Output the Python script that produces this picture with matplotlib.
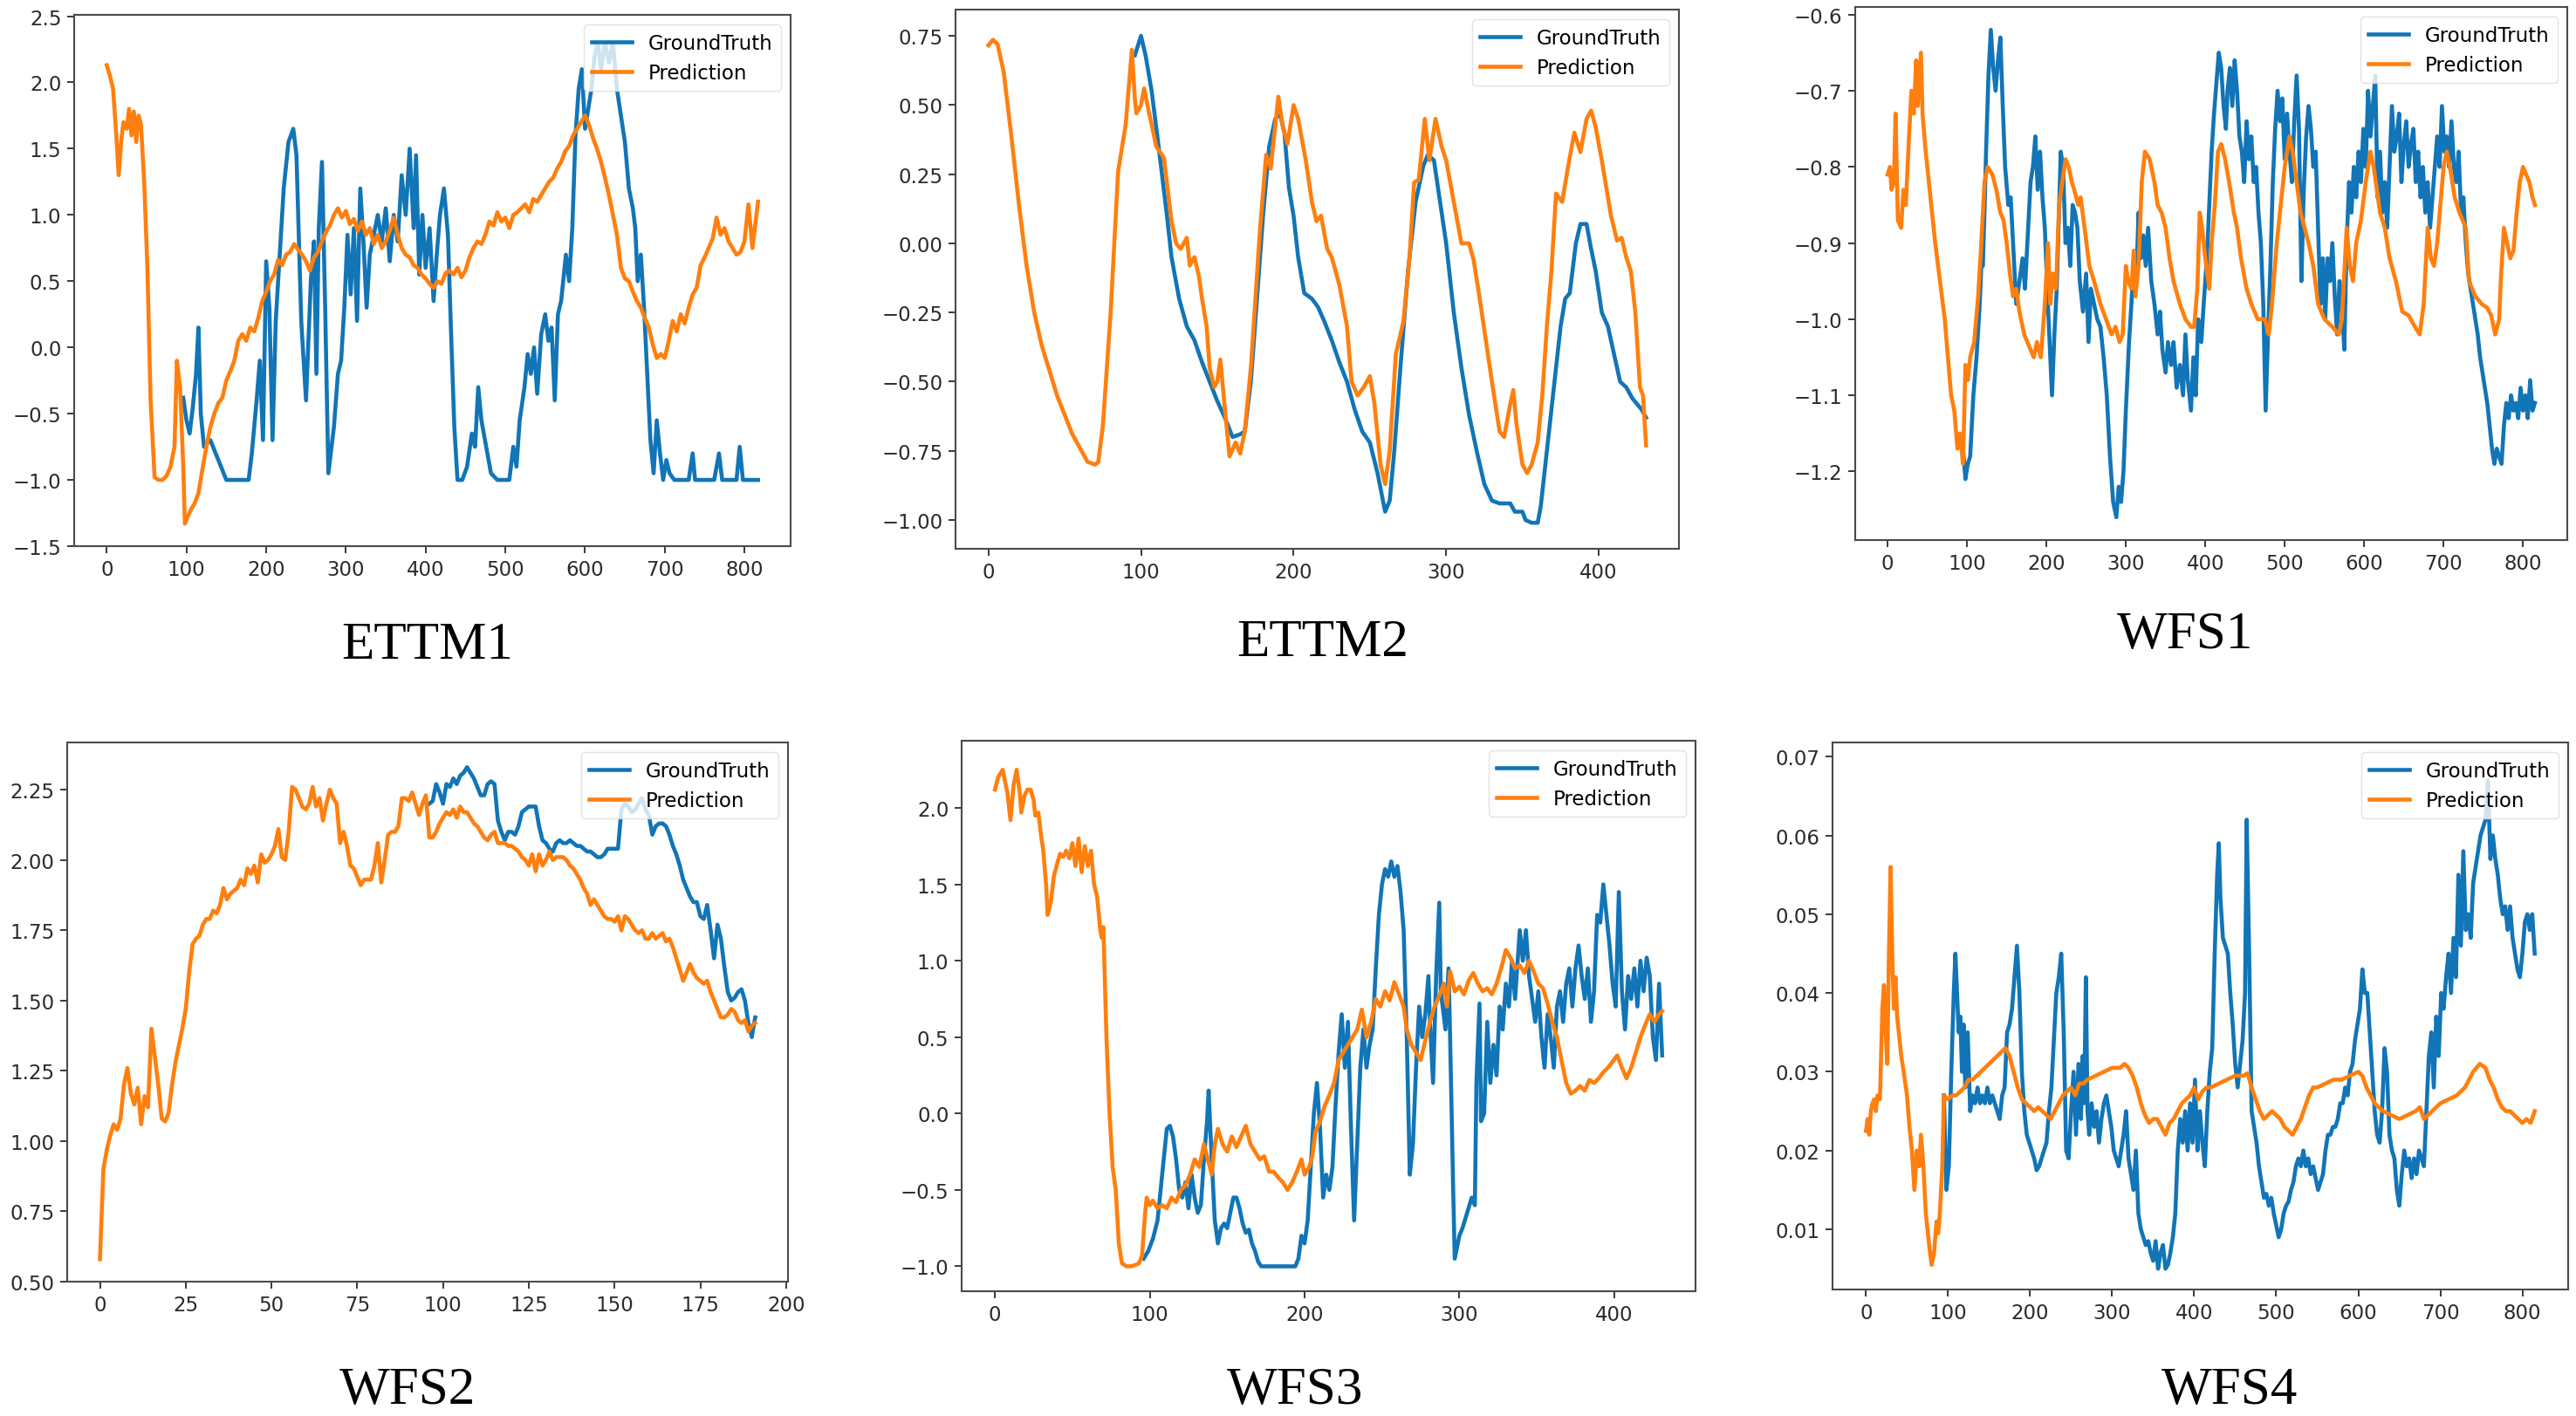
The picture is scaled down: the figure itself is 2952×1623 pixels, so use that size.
import numpy as np
import matplotlib
matplotlib.use("Agg")
import matplotlib.pyplot as plt

# ---- data: (time step, value) pairs ----
ettm1_pred = [(0, 2.13), (4, 2.05), (8, 1.95), (12, 1.6), (15, 1.3), (18, 1.55), (21, 1.7), (25, 1.65),
              (28, 1.8), (31, 1.6), (34, 1.78), (37, 1.55), (40, 1.75), (43, 1.68), (47, 1.25), (51, 0.6),
              (55, -0.4), (60, -0.98), (65, -1.0), (70, -1.0), (75, -0.97), (80, -0.9), (85, -0.75),
              (88, -0.1), (92, -0.3), (96, -0.9), (98, -1.33), (102, -1.27), (106, -1.22), (110, -1.18),
              (115, -1.1), (120, -0.92), (125, -0.75), (130, -0.6), (135, -0.5), (140, -0.42), (145, -0.38),
              (150, -0.25), (155, -0.18), (160, -0.1), (165, 0.05), (170, 0.1), (175, 0.05), (180, 0.15),
              (185, 0.12), (190, 0.22), (195, 0.35), (200, 0.42), (205, 0.5), (210, 0.55), (215, 0.66),
              (220, 0.62), (225, 0.7), (230, 0.72), (235, 0.78), (240, 0.74), (245, 0.7), (250, 0.65),
              (255, 0.58), (260, 0.68), (265, 0.72), (270, 0.8), (275, 0.87), (280, 0.92), (285, 1.0),
              (290, 1.05), (295, 0.98), (300, 1.03), (305, 0.93), (310, 0.97), (315, 0.88), (320, 0.95),
              (325, 0.85), (330, 0.9), (335, 0.78), (340, 0.85), (345, 0.75), (350, 0.8), (355, 0.88),
              (360, 0.98), (365, 0.85), (370, 0.75), (375, 0.7), (380, 0.68), (385, 0.62), (390, 0.6),
              (395, 0.55), (400, 0.52), (405, 0.48), (410, 0.45), (415, 0.5), (420, 0.48), (425, 0.56),
              (430, 0.58), (435, 0.55), (440, 0.6), (445, 0.53), (450, 0.58), (455, 0.68), (460, 0.75),
              (465, 0.8), (470, 0.78), (475, 0.85), (480, 0.95), (485, 0.92), (490, 1.02), (495, 0.95),
              (500, 0.98), (505, 0.9), (510, 1.0), (515, 1.02), (520, 1.05), (525, 1.08), (530, 1.02),
              (535, 1.12), (540, 1.1), (545, 1.15), (550, 1.2), (555, 1.25), (560, 1.28), (565, 1.35),
              (570, 1.4), (575, 1.48), (580, 1.52), (585, 1.6), (590, 1.65), (595, 1.7), (600, 1.75),
              (605, 1.68), (610, 1.58), (615, 1.5), (620, 1.4), (625, 1.28), (630, 1.15), (635, 1.0),
              (640, 0.85), (645, 0.6), (650, 0.52), (655, 0.5), (660, 0.42), (665, 0.35), (670, 0.3),
              (675, 0.22), (680, 0.15), (685, 0.02), (690, -0.08), (695, -0.05), (700, -0.08), (705, 0.05),
              (710, 0.2), (715, 0.12), (720, 0.25), (725, 0.18), (730, 0.3), (735, 0.4), (740, 0.45),
              (745, 0.62), (750, 0.68), (755, 0.75), (760, 0.82), (765, 0.98), (770, 0.85), (775, 0.9),
              (780, 0.8), (785, 0.75), (790, 0.7), (795, 0.72), (800, 0.8), (805, 1.08), (810, 0.75),
              (814, 0.95), (817, 1.1)]
ettm1_gt = [(96, -0.38), (100, -0.55), (104, -0.65), (108, -0.45), (112, -0.2), (115, 0.15), (118, -0.5),
            (122, -0.75), (130, -0.7), (140, -0.85), (150, -1.0), (178, -1.0), (182, -0.8), (188, -0.4),
            (192, -0.1), (196, -0.7), (200, 0.65), (204, 0.3), (208, -0.7), (212, 0.2), (216, 0.6),
            (222, 1.2), (228, 1.55), (234, 1.65), (238, 1.45), (244, 0.2), (250, -0.4), (256, 0.5),
            (260, 0.8), (263, -0.2), (266, 0.9), (270, 1.4), (274, 0.3), (278, -0.95), (285, -0.6),
            (290, -0.2), (294, -0.1), (298, 0.3), (302, 0.85), (306, 0.4), (310, 0.9), (314, 0.2),
            (318, 1.2), (322, 0.8), (326, 0.3), (330, 0.7), (335, 0.85), (340, 1.0), (345, 0.8),
            (350, 1.05), (355, 0.65), (360, 1.0), (365, 0.8), (370, 1.3), (375, 1.0), (380, 1.5),
            (385, 0.9), (388, 1.45), (392, 0.55), (396, 1.0), (400, 0.6), (405, 0.9), (410, 0.35),
            (414, 0.7), (418, 1.0), (423, 1.2), (428, 0.85), (432, 0.1), (436, -0.6), (440, -1.0),
            (446, -1.0), (452, -0.9), (458, -0.65), (462, -0.75), (466, -0.3), (470, -0.55), (476, -0.75),
            (482, -0.95), (490, -1.0), (505, -1.0), (510, -0.75), (514, -0.9), (518, -0.55), (524, -0.3),
            (528, -0.05), (532, -0.2), (536, 0.0), (540, -0.35), (545, 0.1), (550, 0.25), (554, 0.05),
            (558, 0.15), (562, -0.4), (566, 0.25), (570, 0.35), (576, 0.7), (580, 0.5), (584, 0.9),
            (588, 1.6), (592, 1.95), (596, 2.1), (600, 1.65), (604, 1.8), (608, 1.95), (612, 2.2),
            (616, 2.3), (620, 2.1), (625, 2.3), (630, 2.15), (635, 2.3), (640, 1.95), (645, 1.75),
            (650, 1.55), (655, 1.2), (660, 1.05), (663, 0.9), (666, 0.5), (670, 0.7), (674, 0.3),
            (678, -0.2), (682, -0.7), (686, -0.95), (690, -0.55), (694, -0.8), (698, -1.0), (702, -0.85),
            (706, -0.95), (712, -1.0), (730, -1.0), (735, -0.8), (738, -1.0), (762, -1.0), (768, -0.8),
            (772, -1.0), (790, -1.0), (794, -0.75), (798, -1.0), (817, -1.0)]

ettm2_pred = [(0, 0.716), (3, 0.736), (6, 0.72), (10, 0.62), (15, 0.39), (20, 0.14), (25, -0.08), (30, -0.25),
              (35, -0.37), (40, -0.46), (45, -0.55), (50, -0.62), (55, -0.69), (60, -0.74), (65, -0.79),
              (70, -0.80), (72, -0.79), (75, -0.66), (80, -0.26), (85, 0.26), (90, 0.43), (94, 0.70),
              (96, 0.52), (97, 0.47), (100, 0.50), (102, 0.56), (105, 0.48), (110, 0.35), (115, 0.31),
              (120, 0.08), (123, 0.0), (126, -0.02), (130, 0.02), (132, -0.08), (135, -0.05), (138, -0.12),
              (140, -0.2), (143, -0.3), (145, -0.45), (148, -0.52), (150, -0.5), (152, -0.42), (155, -0.6),
              (158, -0.77), (162, -0.72), (165, -0.76), (168, -0.68), (172, -0.45), (175, -0.2), (178, 0.05),
              (182, 0.32), (185, 0.27), (190, 0.53), (193, 0.42), (196, 0.36), (200, 0.5), (203, 0.45),
              (208, 0.3), (212, 0.15), (215, 0.08), (218, 0.1), (222, -0.02), (225, -0.05), (230, -0.15),
              (235, -0.3), (238, -0.5), (242, -0.55), (246, -0.52), (250, -0.48), (253, -0.58), (257, -0.8),
              (260, -0.87), (263, -0.75), (267, -0.4), (270, -0.33), (272, -0.28), (276, -0.05), (279, 0.22),
              (282, 0.23), (286, 0.45), (289, 0.3), (293, 0.45), (297, 0.35), (300, 0.3), (305, 0.15),
              (310, 0.0), (315, 0.0), (318, -0.06), (322, -0.2), (326, -0.35), (330, -0.5), (335, -0.68),
              (338, -0.7), (342, -0.58), (344, -0.53), (346, -0.65), (350, -0.8), (353, -0.83), (356, -0.8),
              (360, -0.72), (363, -0.55), (366, -0.3), (369, -0.1), (372, 0.18), (376, 0.15), (380, 0.28),
              (384, 0.4), (388, 0.33), (392, 0.45), (395, 0.48), (398, 0.42), (402, 0.3), (405, 0.2),
              (408, 0.1), (412, 0.01), (415, 0.02), (418, -0.05), (421, -0.1), (424, -0.25), (427, -0.52),
              (429, -0.55), (431, -0.73)]
ettm2_gt = [(96, 0.68), (100, 0.75), (103, 0.68), (107, 0.55), (112, 0.33), (117, 0.1), (120, -0.05),
            (125, -0.2), (130, -0.3), (135, -0.35), (140, -0.43), (145, -0.5), (150, -0.57), (155, -0.63),
            (160, -0.7), (165, -0.69), (168, -0.68), (172, -0.5), (176, -0.2), (180, 0.1), (184, 0.35),
            (188, 0.45), (191, 0.47), (194, 0.4), (197, 0.2), (200, 0.1), (203, -0.05), (207, -0.18),
            (212, -0.2), (216, -0.23), (220, -0.28), (225, -0.35), (230, -0.43), (235, -0.5), (240, -0.6),
            (245, -0.68), (250, -0.72), (255, -0.83), (260, -0.97), (263, -0.93), (266, -0.75), (270, -0.45),
            (275, -0.1), (280, 0.15), (285, 0.28), (288, 0.32), (292, 0.3), (296, 0.15), (300, 0.0),
            (305, -0.25), (310, -0.45), (315, -0.62), (320, -0.75), (325, -0.87), (330, -0.93), (335, -0.94),
            (342, -0.94), (345, -0.97), (350, -0.97), (352, -1.0), (356, -1.01), (360, -1.01), (362, -0.95),
            (365, -0.8), (370, -0.55), (375, -0.3), (378, -0.2), (381, -0.18), (385, 0.0), (388, 0.07),
            (392, 0.07), (395, -0.02), (398, -0.1), (402, -0.25), (406, -0.3), (410, -0.4), (414, -0.5),
            (418, -0.52), (422, -0.56), (425, -0.58), (428, -0.6), (431, -0.63)]

wfs1_pred = [(0, -0.81), (3, -0.8), (5, -0.83), (8, -0.82), (10, -0.73), (13, -0.87), (17, -0.88), (20, -0.83),
             (23, -0.85), (27, -0.76), (30, -0.7), (33, -0.73), (36, -0.66), (38, -0.72), (42, -0.65),
             (44, -0.73), (48, -0.78), (52, -0.82), (56, -0.86), (60, -0.9), (66, -0.95), (72, -1.0),
             (76, -1.05), (80, -1.1), (84, -1.12), (88, -1.17), (91, -1.15), (95, -1.19), (98, -1.06),
             (101, -1.08), (104, -1.05), (109, -1.03), (114, -0.97), (118, -0.9), (122, -0.82), (126, -0.8),
             (132, -0.81), (137, -0.83), (142, -0.86), (146, -0.87), (150, -0.9), (154, -0.94), (158, -0.97),
             (162, -0.96), (166, -0.99), (172, -1.02), (180, -1.04), (184, -1.05), (188, -1.03), (193, -1.05),
             (198, -0.98), (202, -0.9), (205, -0.98), (208, -0.94), (212, -0.96), (216, -0.85), (220, -0.82),
             (224, -0.79), (228, -0.8), (232, -0.82), (235, -0.83), (240, -0.85), (243, -0.84), (248, -0.88),
             (254, -0.93), (260, -0.95), (268, -0.98), (275, -1.0), (282, -1.02), (287, -1.01), (292, -1.03),
             (296, -1.02), (300, -0.93), (303, -0.95), (307, -0.96), (310, -0.91), (312, -0.97), (316, -0.93),
             (320, -0.82), (324, -0.78), (330, -0.79), (336, -0.82), (340, -0.85), (345, -0.86), (350, -0.88),
             (355, -0.92), (360, -0.95), (368, -0.98), (375, -1.0), (382, -1.01), (386, -1.01), (390, -0.96),
             (393, -0.86), (396, -0.88), (400, -0.92), (405, -0.96), (408, -0.9), (412, -0.85), (416, -0.78),
             (420, -0.77), (425, -0.79), (430, -0.82), (436, -0.86), (440, -0.88), (445, -0.92), (452, -0.96),
             (458, -0.98), (466, -1.0), (475, -1.0), (480, -1.02), (484, -0.98), (490, -0.9), (495, -0.85),
             (500, -0.8), (506, -0.76), (510, -0.78), (515, -0.82), (520, -0.86), (525, -0.88), (530, -0.9),
             (536, -0.93), (542, -0.98), (550, -1.0), (560, -1.01), (568, -1.02), (572, -1.0), (575, -0.94),
             (578, -0.88), (582, -0.93), (586, -0.95), (590, -0.9), (596, -0.87), (602, -0.82), (608, -0.78),
             (612, -0.8), (616, -0.83), (620, -0.86), (626, -0.88), (632, -0.92), (640, -0.95), (648, -0.99),
             (656, -0.995), (664, -1.01), (670, -1.02), (675, -0.98), (680, -0.88), (684, -0.92), (688, -0.93),
             (692, -0.9), (696, -0.85), (700, -0.8), (704, -0.78), (708, -0.8), (714, -0.84), (720, -0.86),
             (728, -0.88), (732, -0.95), (740, -0.97), (748, -0.98), (755, -0.985), (760, -0.995),
             (765, -1.02), (770, -1.0), (772, -0.95), (776, -0.88), (780, -0.9), (784, -0.92), (788, -0.91),
             (792, -0.86), (796, -0.82), (800, -0.8), (804, -0.81), (808, -0.82), (812, -0.84), (815, -0.85)]
wfs1_gt = [(95, -1.17), (98, -1.21), (101, -1.19), (104, -1.18), (108, -1.1), (112, -1.05), (116, -0.98),
           (118, -0.93), (120, -0.93), (122, -0.86), (124, -0.78), (127, -0.68), (130, -0.62), (133, -0.67),
           (136, -0.7), (139, -0.66), (142, -0.63), (145, -0.72), (148, -0.8), (152, -0.85), (155, -0.84),
           (158, -0.9), (162, -0.98), (166, -0.95), (170, -0.92), (173, -0.96), (176, -0.9), (180, -0.82),
           (183, -0.8), (186, -0.76), (189, -0.83), (192, -0.78), (195, -0.84), (198, -0.88), (201, -0.96),
           (204, -1.03), (207, -1.1), (210, -1.02), (213, -0.96), (216, -0.85), (218, -0.78), (221, -0.8),
           (224, -0.9), (227, -0.88), (230, -0.93), (233, -0.85), (236, -0.86), (239, -0.88), (242, -0.95),
           (246, -0.99), (250, -0.94), (253, -1.03), (256, -0.96), (260, -0.98), (264, -1.0), (268, -1.01),
           (272, -1.05), (276, -1.1), (280, -1.18), (284, -1.24), (288, -1.26), (291, -1.22), (294, -1.24),
           (297, -1.2), (300, -1.12), (304, -1.03), (307, -0.98), (310, -0.92), (313, -0.95), (316, -0.86),
           (319, -0.92), (322, -0.89), (325, -0.93), (328, -0.88), (332, -0.95), (336, -0.98), (340, -1.02),
           (343, -0.99), (346, -1.04), (350, -1.07), (353, -1.03), (357, -1.06), (360, -1.03), (364, -1.09),
           (368, -1.06), (372, -1.1), (375, -1.02), (378, -1.08), (382, -1.12), (385, -1.05), (388, -1.1),
           (391, -1.0), (395, -1.03), (398, -0.98), (402, -0.92), (405, -0.85), (408, -0.78), (411, -0.73),
           (414, -0.69), (417, -0.65), (420, -0.67), (423, -0.72), (426, -0.75), (428, -0.7), (431, -0.67),
           (434, -0.72), (437, -0.66), (440, -0.7), (443, -0.76), (446, -0.78), (449, -0.82), (452, -0.74),
           (455, -0.79), (458, -0.76), (461, -0.82), (464, -0.8), (467, -0.86), (470, -0.9), (473, -0.98),
           (476, -1.12), (479, -1.02), (482, -0.93), (485, -0.82), (488, -0.75), (491, -0.7), (494, -0.74),
           (497, -0.71), (500, -0.79), (503, -0.73), (506, -0.78), (509, -0.82), (512, -0.74), (515, -0.68),
           (518, -0.75), (521, -0.95), (524, -0.83), (527, -0.76), (530, -0.72), (533, -0.75), (536, -0.8),
           (539, -0.78), (542, -0.88), (545, -0.98), (548, -0.92), (551, -1.0), (554, -0.92), (557, -0.95),
           (560, -0.9), (563, -0.97), (566, -1.02), (569, -0.95), (572, -0.98), (575, -1.04), (578, -0.9),
           (581, -0.82), (584, -0.86), (587, -0.8), (590, -0.84), (593, -0.78), (596, -0.82), (599, -0.75),
           (602, -0.8), (605, -0.7), (608, -0.76), (611, -0.72), (614, -0.68), (617, -0.84), (620, -0.78),
           (623, -0.86), (626, -0.82), (629, -0.88), (632, -0.8), (635, -0.72), (638, -0.78), (641, -0.76),
           (644, -0.73), (647, -0.82), (650, -0.77), (653, -0.74), (656, -0.8), (659, -0.77), (662, -0.75),
           (665, -0.82), (668, -0.78), (671, -0.84), (674, -0.8), (677, -0.86), (680, -0.82), (683, -0.88),
           (686, -0.84), (689, -0.8), (692, -0.76), (695, -0.8), (698, -0.72), (701, -0.78), (704, -0.76),
           (707, -0.8), (710, -0.74), (713, -0.8), (716, -0.82), (719, -0.78), (722, -0.86), (725, -0.84),
           (728, -0.9), (731, -0.94), (734, -0.96), (737, -0.98), (740, -1.0), (743, -1.02), (746, -1.05),
           (749, -1.07), (752, -1.09), (755, -1.11), (758, -1.14), (761, -1.17), (764, -1.19), (767, -1.17),
           (770, -1.18), (773, -1.19), (776, -1.14), (779, -1.11), (782, -1.13), (785, -1.1), (788, -1.12),
           (791, -1.11), (794, -1.13), (797, -1.09), (800, -1.12), (803, -1.1), (806, -1.13), (809, -1.08),
           (812, -1.12), (815, -1.11)]

wfs2_pred = [(0, 0.58), (1, 0.9), (2, 0.97), (3, 1.02), (4, 1.06), (5, 1.04), (6, 1.08), (7, 1.2), (8, 1.26),
             (9, 1.17), (10, 1.13), (11, 1.19), (12, 1.06), (13, 1.16), (14, 1.12), (15, 1.4), (16, 1.3),
             (17, 1.2), (18, 1.08), (19, 1.07), (20, 1.1), (21, 1.2), (22, 1.28), (23, 1.34), (24, 1.4),
             (25, 1.47), (26, 1.6), (27, 1.7), (28, 1.72), (29, 1.73), (30, 1.77), (31, 1.79), (32, 1.79),
             (33, 1.82), (34, 1.81), (35, 1.84), (36, 1.9), (37, 1.86), (38, 1.88), (39, 1.89), (40, 1.9),
             (41, 1.93), (42, 1.91), (43, 1.97), (44, 1.95), (45, 1.98), (46, 1.92), (47, 2.02), (48, 1.99),
             (49, 2.0), (50, 2.02), (51, 2.05), (52, 2.11), (53, 2.01), (54, 2.0), (55, 2.1), (56, 2.26),
             (57, 2.25), (58, 2.22), (59, 2.19), (60, 2.18), (61, 2.2), (62, 2.26), (63, 2.19), (64, 2.22),
             (65, 2.14), (66, 2.2), (67, 2.25), (68, 2.22), (69, 2.2), (70, 2.06), (71, 2.1), (72, 2.05),
             (73, 1.98), (74, 1.97), (75, 1.94), (76, 1.91), (77, 1.93), (78, 1.93), (79, 1.93), (80, 1.98),
             (81, 2.06), (82, 1.92), (83, 2.0), (84, 2.09), (85, 2.1), (86, 2.1), (87, 2.12), (88, 2.22),
             (89, 2.22), (90, 2.21), (91, 2.24), (92, 2.2), (93, 2.16), (94, 2.2), (95, 2.23), (96, 2.08),
             (97, 2.08), (98, 2.1), (99, 2.13), (100, 2.15), (101, 2.17), (102, 2.16), (103, 2.18),
             (104, 2.15), (105, 2.19), (106, 2.17), (107, 2.17), (108, 2.15), (109, 2.13), (110, 2.12),
             (111, 2.1), (112, 2.08), (113, 2.07), (114, 2.09), (115, 2.1), (116, 2.06), (117, 2.06),
             (118, 2.06), (119, 2.05), (120, 2.05), (121, 2.04), (122, 2.03), (123, 2.01), (124, 2.0),
             (125, 1.98), (126, 2.02), (127, 1.96), (128, 2.02), (129, 1.98), (130, 2.0), (131, 2.03),
             (132, 2.0), (133, 2.01), (134, 2.01), (135, 2.01), (136, 2.0), (137, 1.98), (138, 1.97),
             (139, 1.95), (140, 1.93), (141, 1.9), (142, 1.88), (143, 1.84), (144, 1.86), (145, 1.84),
             (146, 1.82), (147, 1.8), (148, 1.79), (149, 1.79), (150, 1.78), (151, 1.8), (152, 1.75),
             (153, 1.8), (154, 1.79), (155, 1.77), (156, 1.75), (157, 1.74), (158, 1.75), (159, 1.72),
             (160, 1.72), (161, 1.74), (162, 1.72), (163, 1.73), (164, 1.74), (165, 1.71), (166, 1.72),
             (167, 1.69), (168, 1.65), (169, 1.61), (170, 1.57), (171, 1.6), (172, 1.63), (173, 1.6),
             (174, 1.58), (175, 1.57), (176, 1.56), (177, 1.57), (178, 1.53), (179, 1.5), (180, 1.47),
             (181, 1.44), (182, 1.44), (183, 1.45), (184, 1.47), (185, 1.46), (186, 1.43), (187, 1.42),
             (188, 1.43), (189, 1.39), (190, 1.41), (191, 1.42)]
wfs2_gt = [(96, 2.2), (97, 2.21), (98, 2.27), (99, 2.24), (100, 2.2), (101, 2.27), (102, 2.26), (103, 2.29),
           (104, 2.27), (105, 2.3), (106, 2.31), (107, 2.33), (108, 2.31), (109, 2.29), (110, 2.26),
           (111, 2.23), (112, 2.23), (113, 2.27), (114, 2.28), (115, 2.27), (116, 2.14), (117, 2.1),
           (118, 2.07), (119, 2.1), (120, 2.1), (121, 2.09), (122, 2.12), (123, 2.17), (124, 2.18),
           (125, 2.19), (126, 2.19), (127, 2.19), (128, 2.12), (129, 2.07), (130, 2.06), (131, 2.04),
           (132, 2.03), (133, 2.06), (134, 2.07), (135, 2.06), (136, 2.06), (137, 2.07), (138, 2.06),
           (139, 2.05), (140, 2.05), (141, 2.04), (142, 2.03), (143, 2.03), (144, 2.02), (145, 2.01),
           (146, 2.01), (147, 2.02), (148, 2.04), (149, 2.04), (150, 2.04), (151, 2.04), (152, 2.18),
           (153, 2.2), (154, 2.19), (155, 2.17), (156, 2.18), (157, 2.2), (158, 2.22), (159, 2.18),
           (160, 2.16), (161, 2.09), (162, 2.12), (163, 2.13), (164, 2.13), (165, 2.12), (166, 2.09),
           (167, 2.05), (168, 2.02), (169, 1.98), (170, 1.93), (171, 1.9), (172, 1.87), (173, 1.85),
           (174, 1.85), (175, 1.8), (176, 1.79), (177, 1.84), (178, 1.75), (179, 1.65), (180, 1.77),
           (181, 1.72), (182, 1.62), (183, 1.53), (184, 1.5), (185, 1.51), (186, 1.53), (187, 1.54),
           (188, 1.5), (189, 1.42), (190, 1.37), (191, 1.44)]

wfs3_pred = [(0, 2.12), (2, 2.2), (5, 2.25), (8, 2.1), (10, 1.92), (12, 2.15), (14, 2.25), (16, 2.1), (17, 1.97),
             (19, 2.08), (21, 2.12), (23, 2.12), (25, 2.05), (26, 1.95), (28, 1.97), (30, 1.8), (31, 1.74),
             (33, 1.5), (34, 1.3), (36, 1.38), (38, 1.55), (40, 1.63), (42, 1.7), (44, 1.68), (46, 1.72),
             (48, 1.67), (50, 1.77), (52, 1.62), (54, 1.8), (56, 1.58), (58, 1.75), (60, 1.62), (62, 1.72),
             (64, 1.5), (66, 1.42), (68, 1.2), (69, 1.15), (70, 1.22), (72, 0.5), (74, 0.0), (76, -0.35),
             (78, -0.5), (80, -0.85), (82, -0.98), (85, -1.0), (88, -1.0), (91, -0.99), (93, -0.98),
             (95, -0.93), (97, -0.65), (98, -0.55), (100, -0.6), (102, -0.57), (105, -0.62), (108, -0.6),
             (111, -0.62), (114, -0.55), (117, -0.58), (120, -0.5), (123, -0.47), (126, -0.4), (129, -0.3),
             (132, -0.35), (135, -0.2), (138, -0.32), (140, -0.4), (142, -0.2), (144, -0.1), (147, -0.2),
             (150, -0.25), (153, -0.15), (156, -0.22), (159, -0.15), (162, -0.08), (165, -0.2), (168, -0.25),
             (171, -0.3), (174, -0.28), (177, -0.38), (180, -0.38), (183, -0.42), (186, -0.45), (189, -0.5),
             (192, -0.45), (195, -0.38), (198, -0.3), (200, -0.4), (203, -0.35), (205, -0.28), (207, -0.12),
             (210, -0.05), (213, 0.05), (216, 0.12), (219, 0.2), (222, 0.35), (225, 0.4), (228, 0.45),
             (231, 0.5), (234, 0.55), (237, 0.68), (240, 0.5), (243, 0.6), (246, 0.75), (249, 0.7), (252, 0.8),
             (255, 0.74), (258, 0.86), (261, 0.78), (264, 0.7), (266, 0.55), (269, 0.45), (272, 0.4),
             (275, 0.35), (278, 0.48), (281, 0.6), (284, 0.7), (287, 0.77), (290, 0.85), (292, 0.7),
             (294, 0.93), (297, 0.8), (300, 0.83), (303, 0.78), (306, 0.87), (309, 0.92), (312, 0.85),
             (315, 0.8), (318, 0.82), (321, 0.78), (324, 0.85), (327, 0.95), (330, 1.07), (333, 1.02),
             (336, 0.95), (339, 0.97), (342, 0.92), (345, 1.0), (348, 0.93), (351, 0.85), (354, 0.82),
             (357, 0.72), (360, 0.6), (363, 0.5), (366, 0.35), (369, 0.2), (372, 0.13), (375, 0.15),
             (378, 0.18), (381, 0.15), (384, 0.22), (387, 0.2), (390, 0.23), (393, 0.27), (396, 0.3),
             (399, 0.34), (402, 0.38), (405, 0.3), (408, 0.23), (411, 0.3), (414, 0.4), (417, 0.5),
             (420, 0.58), (423, 0.65), (426, 0.6), (429, 0.65), (431, 0.67)]
wfs3_gt = [(96, -0.95), (99, -0.9), (102, -0.82), (105, -0.7), (107, -0.5), (109, -0.3), (111, -0.1),
           (113, -0.08), (115, -0.15), (117, -0.3), (119, -0.5), (121, -0.55), (123, -0.45), (125, -0.62),
           (127, -0.4), (129, -0.55), (131, -0.65), (133, -0.6), (135, -0.3), (137, -0.05), (138, 0.15),
           (140, -0.3), (142, -0.7), (144, -0.85), (146, -0.75), (148, -0.72), (150, -0.75), (152, -0.65),
           (154, -0.55), (156, -0.55), (158, -0.62), (160, -0.72), (162, -0.78), (164, -0.76), (166, -0.85),
           (168, -0.9), (170, -0.97), (172, -1.0), (194, -1.0), (196, -0.95), (198, -0.8), (200, -0.85),
           (202, -0.7), (204, -0.35), (206, 0.0), (208, 0.2), (210, -0.1), (212, -0.55), (214, -0.4),
           (216, -0.5), (218, -0.35), (220, 0.05), (222, 0.4), (224, 0.65), (226, 0.3), (228, 0.6),
           (230, -0.1), (232, -0.7), (234, -0.2), (236, 0.3), (238, 0.55), (240, 0.3), (242, 0.45),
           (244, 0.55), (246, 0.95), (248, 1.3), (250, 1.5), (252, 1.6), (254, 1.55), (256, 1.65),
           (258, 1.55), (260, 1.62), (262, 1.45), (264, 1.2), (266, 0.5), (268, -0.4), (270, -0.2),
           (272, 0.3), (274, 0.7), (276, 0.5), (278, 0.65), (280, 0.9), (281, 0.6), (283, 0.2), (285, 0.9),
           (287, 1.38), (288, 0.8), (291, 0.55), (293, 0.95), (294, 0.5), (296, -0.5), (297, -0.95),
           (300, -0.8), (302, -0.75), (305, -0.65), (308, -0.55), (310, -0.6), (311, 0.2), (313, 0.72),
           (314, -0.05), (316, 0.0), (318, 0.6), (320, 0.2), (322, 0.45), (324, 0.25), (326, 0.7),
           (328, 0.55), (330, 0.85), (332, 0.7), (334, 1.0), (336, 0.75), (339, 1.2), (341, 1.0), (343, 1.2),
           (345, 0.9), (347, 0.75), (349, 0.6), (351, 0.8), (353, 0.5), (355, 0.3), (357, 0.65), (359, 0.5),
           (361, 0.3), (363, 0.7), (365, 0.8), (367, 0.6), (369, 0.85), (371, 0.95), (373, 0.7), (375, 0.95),
           (377, 1.1), (379, 0.9), (381, 0.75), (383, 0.95), (385, 0.6), (387, 0.8), (389, 1.3), (391, 1.25),
           (393, 1.5), (395, 1.3), (397, 1.1), (399, 0.85), (401, 0.7), (403, 1.45), (405, 0.8), (407, 0.55),
           (409, 0.9), (411, 0.75), (413, 0.95), (415, 0.7), (417, 1.0), (419, 0.8), (421, 1.02), (423, 0.9),
           (425, 0.5), (427, 0.35), (429, 0.85), (431, 0.38)]

wfs4_pred = [(0, 0.0225), (2, 0.024), (4, 0.022), (6, 0.025), (8, 0.026), (10, 0.0265), (12, 0.025),
             (14, 0.027), (17, 0.0265), (20, 0.038), (22, 0.041), (24, 0.035), (26, 0.031), (28, 0.045),
             (30, 0.056), (32, 0.045), (34, 0.038), (36, 0.042), (38, 0.037), (40, 0.035), (43, 0.032),
             (46, 0.03), (50, 0.027), (53, 0.023), (56, 0.02), (59, 0.015), (62, 0.02), (65, 0.018),
             (67, 0.022), (70, 0.018), (73, 0.012), (77, 0.008), (80, 0.0055), (83, 0.007), (86, 0.011),
             (88, 0.0095), (90, 0.012), (93, 0.018), (95, 0.027), (100, 0.0265), (105, 0.027), (110, 0.027),
             (115, 0.0275), (120, 0.028), (125, 0.029), (130, 0.029), (135, 0.0295), (140, 0.03),
             (145, 0.0305), (150, 0.031), (155, 0.0315), (160, 0.032), (165, 0.0325), (170, 0.033),
             (175, 0.032), (180, 0.03), (185, 0.028), (190, 0.0265), (195, 0.026), (200, 0.0255),
             (205, 0.025), (210, 0.0255), (215, 0.025), (220, 0.0245), (225, 0.024), (230, 0.025),
             (235, 0.026), (240, 0.027), (245, 0.0275), (250, 0.028), (255, 0.027), (260, 0.0285),
             (265, 0.0285), (270, 0.029), (280, 0.0295), (290, 0.03), (300, 0.0305), (310, 0.0305),
             (315, 0.031), (320, 0.0305), (325, 0.0295), (330, 0.028), (335, 0.026), (340, 0.0245),
             (345, 0.0235), (350, 0.024), (355, 0.024), (360, 0.023), (365, 0.022), (370, 0.0235),
             (375, 0.024), (380, 0.025), (385, 0.026), (390, 0.0265), (395, 0.027), (400, 0.028),
             (405, 0.0265), (410, 0.0275), (415, 0.028), (420, 0.028), (430, 0.0285), (440, 0.029),
             (450, 0.0295), (460, 0.0295), (465, 0.0298), (470, 0.028), (475, 0.0265), (480, 0.025),
             (485, 0.024), (490, 0.0245), (495, 0.025), (500, 0.0245), (505, 0.024), (510, 0.023),
             (515, 0.0225), (520, 0.022), (525, 0.023), (530, 0.024), (535, 0.0255), (540, 0.027),
             (545, 0.028), (550, 0.028), (560, 0.0285), (570, 0.029), (580, 0.029), (590, 0.0295),
             (600, 0.03), (605, 0.0295), (610, 0.028), (615, 0.027), (620, 0.026), (630, 0.025),
             (640, 0.0245), (650, 0.024), (660, 0.0245), (670, 0.025), (675, 0.0255), (680, 0.024),
             (685, 0.0245), (690, 0.025), (700, 0.026), (710, 0.0265), (720, 0.027), (730, 0.028),
             (740, 0.03), (748, 0.031), (755, 0.0305), (760, 0.029), (765, 0.028), (770, 0.0265),
             (775, 0.0255), (780, 0.025), (785, 0.025), (790, 0.0245), (795, 0.024), (800, 0.0235),
             (805, 0.024), (810, 0.0235), (815, 0.025)]
wfs4_gt = [(95, 0.027), (98, 0.015), (101, 0.018), (104, 0.03), (107, 0.04), (109, 0.045), (111, 0.04),
           (113, 0.035), (115, 0.037), (117, 0.03), (119, 0.036), (121, 0.028), (124, 0.035), (127, 0.025),
           (130, 0.027), (133, 0.026), (136, 0.028), (139, 0.026), (142, 0.027), (145, 0.026), (148, 0.028),
           (151, 0.026), (154, 0.027), (157, 0.026), (160, 0.025), (163, 0.024), (166, 0.027), (169, 0.028),
           (172, 0.035), (175, 0.036), (178, 0.038), (181, 0.042), (184, 0.046), (187, 0.04), (190, 0.03),
           (193, 0.025), (196, 0.022), (199, 0.021), (202, 0.02), (205, 0.019), (208, 0.0175), (211, 0.018),
           (214, 0.019), (217, 0.02), (220, 0.021), (223, 0.025), (226, 0.028), (229, 0.034), (232, 0.04),
           (235, 0.042), (238, 0.045), (241, 0.035), (244, 0.02), (247, 0.019), (250, 0.025), (253, 0.03),
           (256, 0.022), (259, 0.031), (262, 0.024), (264, 0.032), (266, 0.026), (268, 0.042), (270, 0.025),
           (272, 0.022), (275, 0.026), (278, 0.023), (281, 0.025), (284, 0.021), (287, 0.024), (290, 0.026),
           (293, 0.027), (296, 0.025), (299, 0.023), (302, 0.02), (305, 0.019), (308, 0.018), (311, 0.02),
           (314, 0.022), (317, 0.025), (320, 0.019), (323, 0.017), (326, 0.015), (329, 0.02), (332, 0.012),
           (335, 0.01), (338, 0.009), (341, 0.008), (344, 0.0085), (347, 0.007), (350, 0.006), (353, 0.0085),
           (356, 0.005), (359, 0.007), (362, 0.008), (365, 0.005), (368, 0.0055), (371, 0.007), (374, 0.009),
           (377, 0.012), (380, 0.02), (383, 0.024), (386, 0.021), (389, 0.025), (392, 0.02), (395, 0.026),
           (398, 0.021), (401, 0.029), (404, 0.02), (407, 0.025), (410, 0.021), (413, 0.018), (416, 0.025),
           (419, 0.03), (422, 0.033), (425, 0.045), (428, 0.055), (430, 0.059), (432, 0.052), (435, 0.047),
           (438, 0.046), (441, 0.045), (444, 0.04), (447, 0.036), (450, 0.031), (453, 0.028), (456, 0.031),
           (459, 0.034), (462, 0.04), (464, 0.062), (467, 0.045), (470, 0.025), (473, 0.023), (476, 0.021),
           (479, 0.018), (482, 0.016), (485, 0.014), (488, 0.0145), (491, 0.013), (494, 0.014), (497, 0.012),
           (500, 0.0105), (503, 0.009), (506, 0.01), (509, 0.012), (512, 0.013), (515, 0.0135), (518, 0.015),
           (521, 0.016), (524, 0.018), (527, 0.019), (530, 0.018), (533, 0.02), (536, 0.018), (539, 0.019),
           (542, 0.017), (545, 0.018), (548, 0.0165), (551, 0.015), (554, 0.016), (557, 0.017), (560, 0.02),
           (563, 0.022), (566, 0.022), (569, 0.023), (572, 0.023), (575, 0.024), (578, 0.026), (581, 0.026),
           (584, 0.028), (587, 0.027), (590, 0.03), (593, 0.031), (596, 0.034), (599, 0.036), (602, 0.038),
           (605, 0.043), (608, 0.04), (611, 0.04), (614, 0.035), (617, 0.03), (620, 0.025), (623, 0.022),
           (626, 0.021), (629, 0.025), (632, 0.033), (635, 0.03), (638, 0.022), (641, 0.02), (644, 0.019),
           (647, 0.015), (650, 0.013), (653, 0.017), (656, 0.02), (659, 0.018), (662, 0.019), (665, 0.0165),
           (668, 0.019), (671, 0.017), (674, 0.02), (677, 0.019), (680, 0.018), (683, 0.025), (686, 0.032),
           (689, 0.035), (692, 0.028), (695, 0.037), (698, 0.032), (701, 0.04), (704, 0.038), (707, 0.042),
           (710, 0.045), (713, 0.04), (716, 0.047), (719, 0.042), (722, 0.055), (725, 0.046), (728, 0.058),
           (731, 0.048), (734, 0.05), (737, 0.047), (740, 0.054), (743, 0.056), (746, 0.058), (749, 0.06),
           (752, 0.061), (755, 0.062), (758, 0.067), (761, 0.057), (764, 0.06), (767, 0.057), (770, 0.055),
           (773, 0.052), (776, 0.05), (779, 0.051), (782, 0.048), (785, 0.051), (788, 0.047), (791, 0.045),
           (794, 0.043), (797, 0.042), (800, 0.045), (803, 0.049), (806, 0.05), (809, 0.048), (812, 0.05),
           (815, 0.045)]

names = ["ETTM1", "ETTM2", "WFS1", "WFS2", "WFS3", "WFS4"]
preds = [ettm1_pred, ettm2_pred, wfs1_pred, wfs2_pred, wfs3_pred, wfs4_pred]
truths = [ettm1_gt, ettm2_gt, wfs1_gt, wfs2_gt, wfs3_gt, wfs4_gt]
ylims = [(-1.50, 2.51), (-1.104, 0.845), (-1.290, -0.590), (0.50, 2.418), (-1.163, 2.44), (0.00236, 0.0718)]

# axes boxes in pixels (left, top, right, bottom) and caption centres
W, H = 2952, 1624
boxes = [(85, 18, 906, 627), (1095, 12, 1924, 630), (2126, 9, 2942, 620),
         (77, 852, 903, 1470), (1102, 850, 1943, 1481), (2100, 852, 2943, 1479)]
captions = [(490, 755), (1516, 752), (2504, 743), (467, 1609), (1484, 1609), (2555, 1609)]

BLUE = "#1175b7"
ORANGE = "#ff7f0e"
INK = "#2a2a2a"

fig = plt.figure(figsize=(W / 100, H / 100), dpi=100)
fig.patch.set_facecolor("white")

for i in range(6):
    l, t, r, b = boxes[i]
    ax = fig.add_axes([l / W, 1 - b / H, (r - l) / W, (b - t) / H])
    gx, gy = np.array(truths[i]).T
    px, py = np.array(preds[i]).T
    ax.plot(gx, gy, color=BLUE, lw=3.3, label="GroundTruth")
    ax.plot(px, py, color=ORANGE, lw=3.3, label="Prediction")
    ax.set_ylim(*ylims[i])
    for s in ax.spines.values():
        s.set_color("#4a4a4a")
        s.set_linewidth(1.5)
    ax.tick_params(labelsize=16.5, length=5.5, width=1.3, pad=5, colors=INK)
    ax.legend(loc="upper right", fontsize=16.5, handlelength=2, framealpha=0.8,
              edgecolor="#dddddd", borderaxespad=0.5)
    cx, cy = captions[i]
    fig.text(cx / W, 1 - cy / H, names[i], ha="center", va="baseline",
             fontsize=44, family="Liberation Serif", color="black")

fig.savefig("out.png", dpi=100, facecolor="white")
